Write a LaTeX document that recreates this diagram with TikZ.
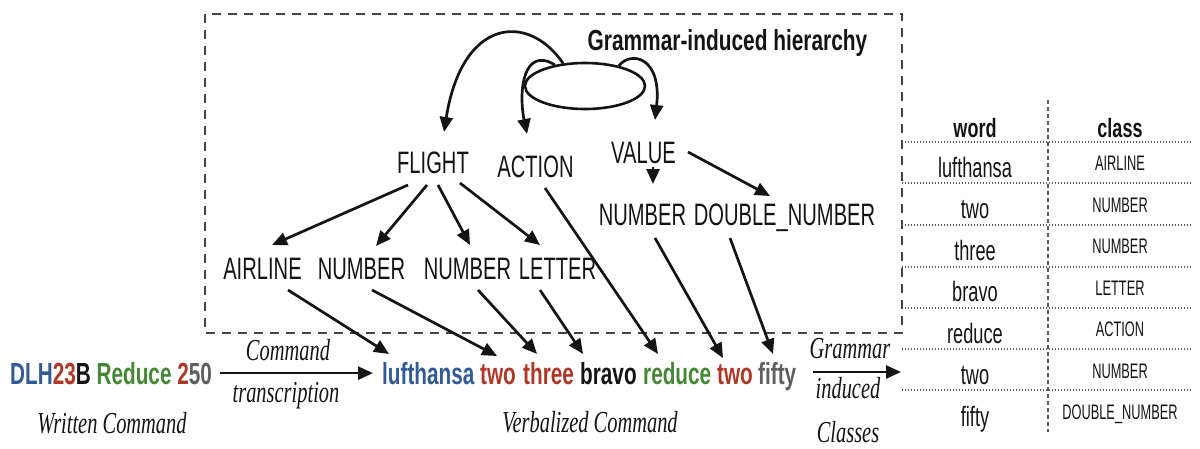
\documentclass[tikz,border=0pt]{standalone}
\usepackage{fontspec}
\usetikzlibrary{arrows.meta,shapes.geometric}
\newfontfamily\sansA[FakeStretch=0.65]{Liberation Sans}
\newfontfamily\sansB[FakeStretch=0.68]{Liberation Sans}
\newfontfamily\sansH[FakeStretch=0.72]{Liberation Sans}
\newfontfamily\sansC[FakeStretch=0.61]{Liberation Sans}
\newfontfamily\serifI[FakeStretch=0.67]{Liberation Serif}
\definecolor{cblue}{RGB}{50,90,150}
\definecolor{cred}{RGB}{175,55,40}
\definecolor{cgreen}{RGB}{70,135,55}
\definecolor{cgray}{RGB}{95,95,95}
\definecolor{ink}{RGB}{20,20,20}
\tikzset{
  lbl/.style={inner sep=2pt, anchor=base, text=ink, font=\sansA\fontsize{31}{31}\selectfont},
  wrd/.style={inner sep=0pt, anchor=base west, font=\sansB\bfseries\fontsize{30.5}{30.5}\selectfont},
  ital/.style={inner sep=0pt, anchor=base, text=ink, font=\serifI\itshape\fontsize{30.5}{30.5}\selectfont},
  head/.style={inner sep=0pt, anchor=base, text=ink, font=\sansH\bfseries\fontsize{29}{29}\selectfont},
  tword/.style={inner sep=0pt, anchor=base, text=ink, font=\sansA\fontsize{28}{28}\selectfont},
  tclass/.style={inner sep=0pt, anchor=base, text=ink, font=\sansC\fontsize{21}{21}\selectfont},
  thead/.style={inner sep=0pt, anchor=base, text=ink, font=\sansB\bfseries\fontsize{26.5}{26.5}\selectfont},
  arr/.style={draw=ink, line width=2.7pt, -{Triangle[length=15pt,width=13pt]}},
  hbox/.style={draw=ink!80, line width=1.8pt, dash pattern=on 9pt off 7pt},
  tabh/.style={draw=ink!70, line width=1.3pt, dash pattern=on 1.4pt off 1.6pt},
  tabv/.style={draw=ink!70, line width=1.3pt, dash pattern=on 4pt off 3pt},
}
\begin{document}
\begin{tikzpicture}[x=1pt,y=-1pt]
\useasboundingbox (0,0) rectangle (1200,448);

% dashed frame of the hierarchy
\draw[hbox] (205,14) rectangle (902,333);

% hierarchy root and title
\node[draw=ink, line width=2.6pt, ellipse, minimum width=120pt, minimum height=46pt, inner sep=0pt] (ell) at (585,86) {};
\node[head] (title) at (727.5,50) {Grammar-induced hierarchy};

% hierarchy labels
\node[lbl] (flight) at (433,173) {FLIGHT};
\node[lbl] (action) at (535.5,177) {ACTION};
\node[lbl] (value)  at (643.5,163) {VALUE};
\node[lbl] (num1)   at (642.5,225) {NUMBER};
\node[lbl] (dbl)    at (784.5,225) {DOUBLE\_NUMBER};
\node[lbl] (airline) at (262.5,279) {AIRLINE};
\node[lbl] (numA)   at (361.5,279) {NUMBER};
\node[lbl] (numB)   at (467.5,279) {NUMBER};
\node[lbl] (letter) at (557.5,279) {LETTER};

% written command
\node[wrd] (dlh) at (10,384) {\textcolor{cblue}{DLH}\textcolor{cred}{23}\textcolor{ink}{B} \textcolor{cgreen}{Reduce} \textcolor{cred}{2}\textcolor{cgray}{50}};
\node[ital] (wc) at (112,433) {Written Command};

% verbalized command
\node[wrd, text=cblue]  (luft)   at (382,384) {lufthansa};
\node[wrd, text=cred]   (twoA)   at (480,384) {two};
\node[wrd, text=cred]   (three)  at (523,384) {three};
\node[wrd, text=ink]    (bravo)  at (580,384) {bravo};
\node[wrd, text=cgreen] (reduce) at (643,384) {reduce};
\node[wrd, text=cred]   (twoB)   at (717,384) {two};
\node[wrd, text=cgray]  (fifty)  at (758,384) {fifty};
\node[ital] (vc) at (590,432) {Verbalized Command};

% transcription arrow
\node[ital] (cmd1) at (288,360) {Command};
\node[ital] (cmd2) at (286,402) {transcription};
\draw[arr, shorten <=8pt, shorten >=9pt] (dlh.east) -- (luft.west |- dlh.east);

% arrow into the class table
\coordinate (tab) at (901,372);
\node[ital] (g1) at (850,358) {Grammar};
\node[ital] (g2) at (848,398) {induced};
\node[ital] (g3) at (848,442) {Classes};
\draw[arr, shorten <=17pt] (fifty.east |- tab) -- (tab);

% root to first level
\draw[arr] (ell.134) .. controls (528,12) and (462,18) .. ([xshift=11pt,yshift=41pt]flight.base);
\draw[arr] (ell.145) .. controls (524,46) and (518,90) .. ([xshift=-8.5pt,yshift=43pt]action.base);
\draw[arr] (ell.31) .. controls (632,50) and (662,58) .. ([xshift=11.5pt,yshift=43pt]value.base);

% first level to second level
\draw[arr] ([xshift=-25pt,yshift=-12pt]flight.base) -- ([xshift=9.5pt,yshift=34pt]airline.base);
\draw[arr] ([xshift=-6pt,yshift=-12pt]flight.base) -- ([xshift=14.5pt,yshift=33pt]numA.base);
\draw[arr] ([xshift=5pt,yshift=-12pt]flight.base) -- ([xshift=2.5pt,yshift=34pt]numB.base);
\draw[arr] ([xshift=27pt,yshift=-10pt]flight.base) -- ([xshift=-17.5pt,yshift=34pt]letter.base);
\draw[arr] ([xshift=9.5pt,yshift=-4pt]value.base) -- ([xshift=10.5pt,yshift=41pt]num1.base);
\draw[arr] ([xshift=44.5pt,yshift=11pt]value.base) -- ([xshift=-14.5pt,yshift=29pt]dbl.base);

% classes to words
\draw[arr] ([xshift=25.5pt,yshift=-11pt]airline.base) -- ([xshift=7pt,yshift=30pt]luft.base west);
\draw[arr] ([xshift=10.5pt,yshift=-11pt]numA.base) -- ([xshift=17pt,yshift=28pt]twoA.base west);
\draw[arr] ([xshift=10.5pt,yshift=-11pt]numB.base) -- ([xshift=14pt,yshift=30pt]three.base west);
\draw[arr] ([xshift=-17.5pt,yshift=-11pt]letter.base) -- ([xshift=3pt,yshift=30pt]bravo.base west);
\draw[arr] ([xshift=9.5pt,yshift=-11pt]action.base) -- ([xshift=15pt,yshift=30pt]reduce.base west);
\draw[arr] ([xshift=12.5pt,yshift=-13pt]num1.base) -- ([xshift=6pt,yshift=26pt]twoB.base west);
\draw[arr] ([xshift=-54.5pt,yshift=-13pt]dbl.base) -- ([xshift=15pt,yshift=30pt]fifty.base west);

% class table
\foreach \y in {142,183,225,267,308,349,390}
  \draw[tabh] (902,\y) -- (1192,\y);
\draw[tabv] (1048,100) -- (1048,432);
\node[thead] (thw) at (975,137) {word};
\node[thead] (thc) at (1120,137) {class};
\foreach \w/\c [count=\i] in {lufthansa/AIRLINE, two/NUMBER, three/NUMBER, bravo/LETTER, reduce/ACTION, two/NUMBER, fifty/DOUBLE\_NUMBER}{
  \pgfmathsetmacro\yb{177+41.5*(\i-1)}
  \pgfmathsetmacro\yc{170.5+41.5*(\i-1)}
  \node[tword] (tw\i) at (975,\yb) {\w};
  \node[tclass] (tc\i) at (1120,\yc) {\c};
}
\end{tikzpicture}
\end{document}
